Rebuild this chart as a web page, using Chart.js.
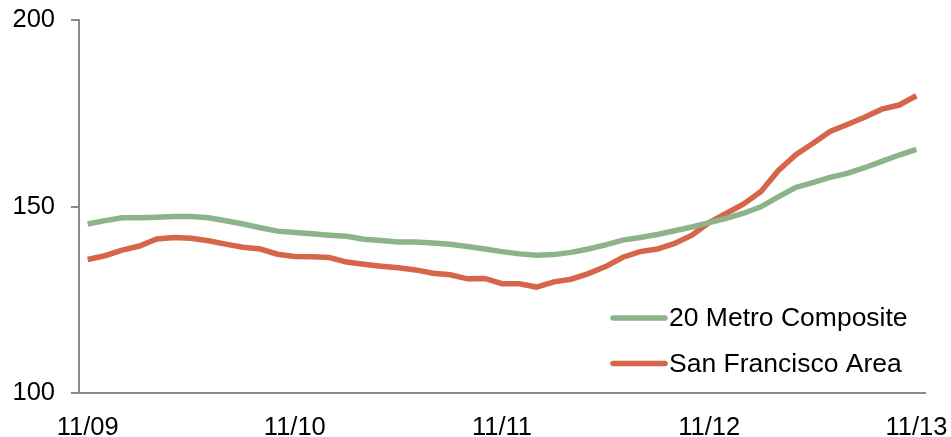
<!DOCTYPE html>
<html>
<head>
<meta charset="utf-8">
<script src="https://cdn.jsdelivr.net/npm/chart.js@4.4.0/dist/chart.umd.min.js"></script>
<style>
    html, body { margin: 0; padding: 0; background: #fff; }
    #wrap { width: 951px; height: 437px; }
</style>
</head>
<body>
<div id="wrap"><canvas id="myChart" width="951" height="437"></canvas></div>
<script>
// monthly, 11/09 .. 11/13
const months = [];
for (let y = 9; y <= 13; y++) {
    const start = y === 9 ? 11 : 1;
    const end = y === 13 ? 11 : 12;
    for (let m = start; m <= end; m++) {
        months.push(String(m).padStart(2, "0") + "/" + String(y).padStart(2, "0"));
    }
}
const shownTicks = ["11/09", "11/10", "11/11", "11/12", "11/13"];

const metroComposite = [
    145.3, 146.2, 147.0, 147.0, 147.1, 147.3, 147.3, 147.0, 146.2, 145.3, 144.3, 143.4,
    143.0, 142.7, 142.3, 142.0, 141.2, 140.9, 140.5, 140.5, 140.2, 139.9, 139.3, 138.6,
    137.9, 137.3, 136.9, 137.1, 137.7, 138.6, 139.7, 141.0, 141.7, 142.5, 143.5, 144.5,
    145.7, 146.8, 148.2, 149.9, 152.6, 155.1, 156.4, 157.8, 158.9, 160.4, 162.1, 163.8,
    165.3
];
const sanFrancisco = [
    135.8, 136.8, 138.3, 139.4, 141.3, 141.7, 141.5, 140.8, 139.9, 139.1, 138.6, 137.2,
    136.6, 136.5, 136.3, 135.1, 134.5, 134.0, 133.6, 133.0, 132.1, 131.7, 130.6, 130.7,
    129.3, 129.3, 128.4, 129.8, 130.5, 132.0, 133.9, 136.4, 137.9, 138.6, 140.1, 142.3,
    145.7, 148.2, 150.7, 154.0, 159.6, 163.8, 166.9, 170.1, 172.0, 173.9, 176.1, 177.2,
    179.7
];

const fontFamily = "'Liberation Sans', Arial, sans-serif";
const axisColor = "#8a8a8a";

// legend drawn inside the plot, lower right
const insideLegend = {
    id: "insideLegend",
    afterDraw(chart) {
        const ctx = chart.ctx;
        const area = chart.chartArea;
        const x0 = area.right - 313;
        const rows = [area.bottom - 75, area.bottom - 29.5];
        ctx.save();
        ctx.font = "26.5px " + fontFamily;
        ctx.textBaseline = "middle";
        ctx.fillStyle = "#000";
        chart.data.datasets.forEach((ds, i) => {
            ctx.strokeStyle = ds.borderColor;
            ctx.lineWidth = 5.5;
            ctx.lineCap = "round";
            ctx.beginPath();
            ctx.moveTo(x0 + 1, rows[i]);
            ctx.lineTo(x0 + 53, rows[i]);
            ctx.stroke();
            ctx.fillText(ds.label, x0 + 57, rows[i] + 1);
        });
        ctx.restore();
    }
};

new Chart("myChart", {
    type: "line",
    data: {
        labels: months,
        datasets: [{
            label: "20 Metro Composite",
            data: metroComposite,
            borderColor: "#8db38a",
            borderWidth: 5.5,
            pointRadius: 0,
            tension: 0
        }, {
            label: "San Francisco Area",
            data: sanFrancisco,
            borderColor: "#d6654a",
            borderWidth: 5.5,
            pointRadius: 0,
            tension: 0
        }]
    },
    options: {
        responsive: false,
        animation: false,
        layout: { padding: { top: 20, right: 26, left: 0, bottom: 0 } },
        scales: {
            x: {
                offset: true,
                grid: { display: false },
                border: { display: true, color: axisColor, width: 2 },
                ticks: {
                    autoSkip: false,
                    maxRotation: 0,
                    padding: 12,
                    color: "#000",
                    font: { family: fontFamily, size: 25.5 },
                    callback: function (value) {
                        const label = this.getLabelForValue(value);
                        return shownTicks.includes(label) ? label : "";
                    }
                },
                afterFit: (scale) => {
                    scale.height = 44;
                    scale.paddingLeft = 0;
                    scale.paddingRight = 0;
                }
            },
            y: {
                min: 100,
                max: 200,
                ticks: {
                    stepSize: 50,
                    padding: 16,
                    color: "#000",
                    font: { family: fontFamily, size: 25.5 }
                },
                grid: {
                    display: true,
                    drawOnChartArea: false,
                    drawTicks: true,
                    tickLength: 8,
                    color: axisColor,
                    lineWidth: 2
                },
                border: { display: true, color: axisColor, width: 2 },
                afterFit: (scale) => {
                    scale.width = 79;
                    scale.paddingTop = 0;
                    scale.paddingBottom = 0;
                }
            }
        },
        plugins: {
            legend: { display: false },
            tooltip: { enabled: false }
        }
    },
    plugins: [insideLegend]
});
</script>
</body>
</html>
